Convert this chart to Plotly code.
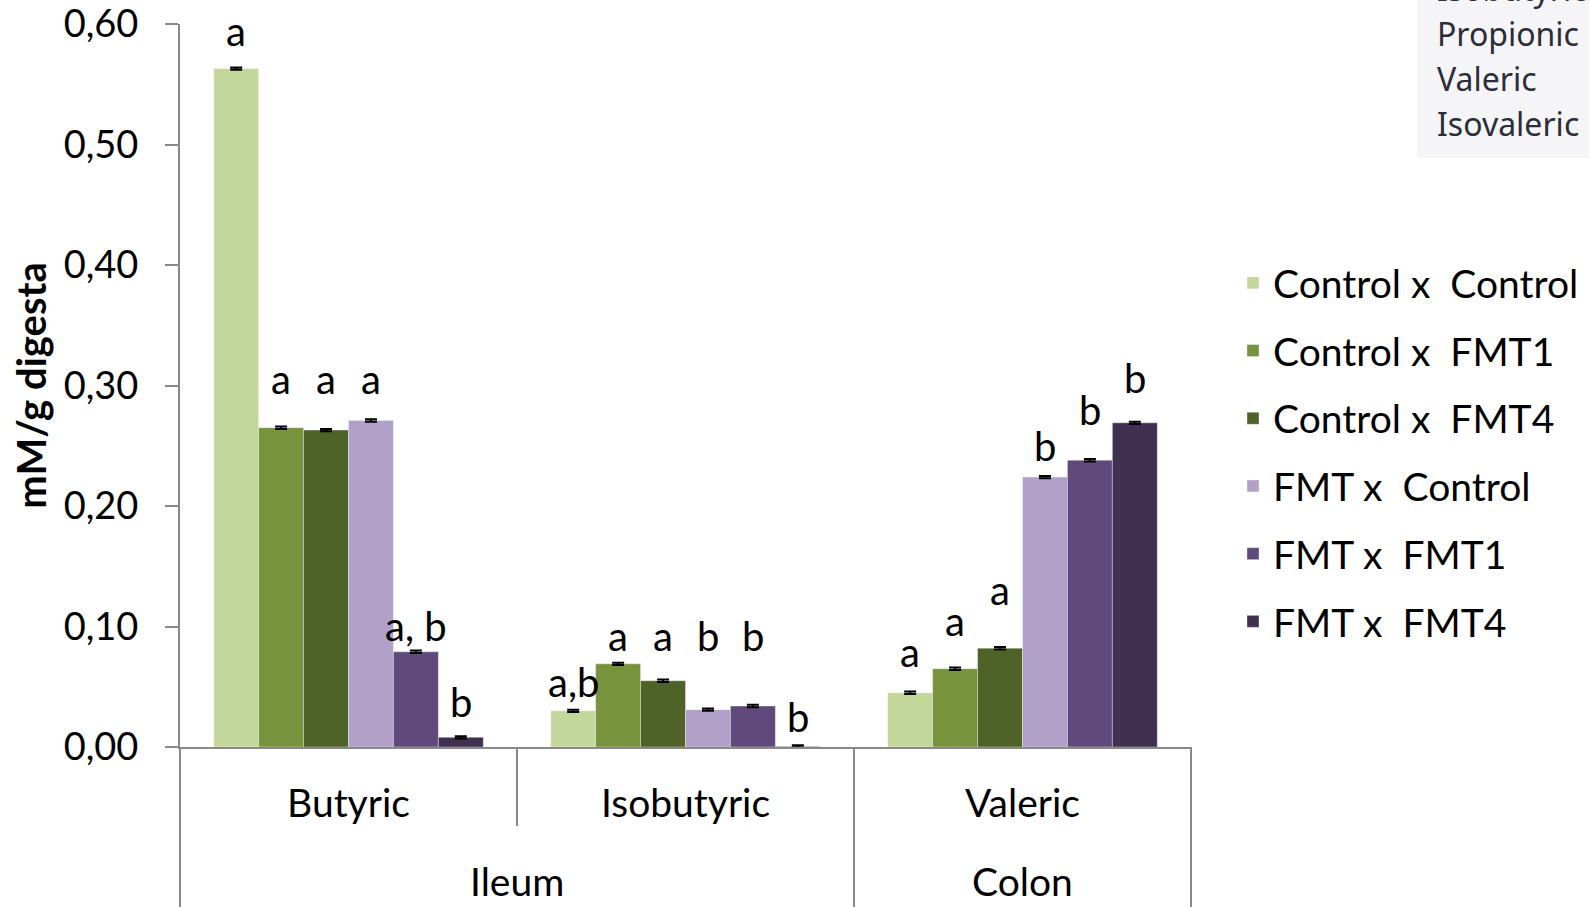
import plotly.graph_objects as go

# Short-chain fatty acid concentration (mM/g digesta) per treatment
acids = ["Butyric", "Isobutyric", "Valeric"]
sites = ["Ileum", "Colon"]
groups = ["Control x\u00a0 Control", "Control x\u00a0 FMT1", "Control x\u00a0 FMT4",
          "FMT x\u00a0 Control", "FMT x\u00a0 FMT1", "FMT x\u00a0 FMT4"]
y_ticks = [0.0, 0.1, 0.2, 0.3, 0.4, 0.5, 0.6]

control_control = [0.563, 0.030, 0.045]
control_fmt1 = [0.265, 0.069, 0.065]
control_fmt4 = [0.263, 0.055, 0.082]
fmt_control = [0.271, 0.031, 0.224]
fmt_fmt1 = [0.079, 0.034, 0.238]
fmt_fmt4 = [0.008, 0.0005, 0.269]

sem = [0.001, 0.001, 0.001]

# significance letters per group and acid
letters_cc = ["a", "a,b", "a"]
letters_cf1 = ["a", "a", "a"]
letters_cf4 = ["a", "a", "a"]
letters_fc = ["a", "b", "b"]
letters_ff1 = ["a, b", "b", "b"]
letters_ff4 = ["b", "b", "b"]

# heights (mM/g) at which the letters sit
letter_h_cc = [0.594, 0.054, 0.079]
letter_h_cf1 = [0.305, 0.092, 0.1045]
letter_h_cf4 = [0.305, 0.092, 0.130]
letter_h_fc = [0.305, 0.092, 0.250]
letter_h_ff1 = [0.1003, 0.092, 0.280]
letter_h_ff4 = [0.037, 0.0246, 0.306]

colors = ["#c4d79b", "#77933c", "#4f6228", "#b1a0c7", "#604a7b", "#403151"]

series = [control_control, control_fmt1, control_fmt4, fmt_control, fmt_fmt1, fmt_fmt4]
letters = [letters_cc, letters_cf1, letters_cf4, letters_fc, letters_ff1, letters_ff4]
letter_h = [letter_h_cc, letter_h_cf1, letter_h_cf4, letter_h_fc, letter_h_ff1, letter_h_ff4]

W, H = 1589, 907
ML, MR, MT, MB = 180, 398, 24, 160
plot_w = W - ML - MR
plot_h = H - MT - MB
bargap = 0.2
bar_px = plot_w / len(acids) * (1 - bargap) / len(groups)

FONT = "Lato"
AXIS_GREY = "#898989"

fig = go.Figure()
for i, (name, vals) in enumerate(zip(groups, series)):
    fig.add_trace(go.Bar(
        x=acids, y=vals, name=name,
        marker=dict(color=colors[i], line=dict(color="rgba(255,255,255,0.35)", width=1)),
        error_y=dict(type="data", array=sem, visible=True, color="black", thickness=2, width=6),
        legendgroup=f"g{i}",
    ))

annotations = []
for i in range(len(groups)):
    for j, acid in enumerate(acids):
        annotations.append(dict(
            x=acid, y=letter_h[i][j], xref="x", yref="y",
            xshift=(i - (len(groups) - 1) / 2) * bar_px,
            text=letters[i][j], showarrow=False,
            font=dict(family=FONT, size=40, color="black"),
            yanchor="middle", xanchor="center",
        ))

def py(px):
    """paper y for a pixel row"""
    return (H - MB - px) / plot_h

def pxx(px):
    return (px - ML) / plot_w

# outer category labels
for site, xc in zip(sites, [1 / 3, 5 / 6]):
    annotations.append(dict(x=xc, y=py(881), xref="paper", yref="paper", text=site,
                            showarrow=False, font=dict(family=FONT, size=39, color="black"),
                            xanchor="center", yanchor="middle"))

# selector panel in the top right corner
panel_items = ["Isobutyric", "Propionic", "Valeric", "Isovaleric"]
panel_y = [-11, 34, 79, 124]
for label, yc in zip(panel_items, panel_y):
    annotations.append(dict(x=pxx(1435), y=py(yc), xref="paper", yref="paper", text=label,
                            showarrow=False, xanchor="left", yanchor="middle",
                            font=dict(family="Noto Sans", size=32, color="#2b2e39")))

shapes = [
    dict(type="rect", xref="paper", yref="paper", x0=pxx(1417), x1=pxx(1600),
         y0=py(158), y1=py(-20), fillcolor="#f5f5f8", line=dict(width=0), layer="below"),
    # category dividers below the axis
    dict(type="line", xref="paper", yref="paper", x0=0, x1=0, y0=0, y1=py(910),
         line=dict(color=AXIS_GREY, width=2)),
    dict(type="line", xref="paper", yref="paper", x0=1 / 3, x1=1 / 3, y0=0, y1=py(826),
         line=dict(color=AXIS_GREY, width=2)),
    dict(type="line", xref="paper", yref="paper", x0=2 / 3, x1=2 / 3, y0=0, y1=py(910),
         line=dict(color=AXIS_GREY, width=2)),
    dict(type="line", xref="paper", yref="paper", x0=1, x1=1, y0=0, y1=py(910),
         line=dict(color=AXIS_GREY, width=2)),
]

fig.update_layout(
    width=W, height=H,
    margin=dict(l=ML, r=MR, t=MT, b=MB, autoexpand=False),
    paper_bgcolor="white", plot_bgcolor="white",
    barmode="group", bargap=bargap, bargroupgap=0,
    separators=", ",
    font=dict(family=FONT, color="black"),
    annotations=annotations,
    shapes=shapes,
    legend=dict(
        x=pxx(1233), y=py(251), xanchor="left", yanchor="top",
        font=dict(family=FONT, size=39, color="black"),
        tracegroupgap=14, bgcolor="rgba(0,0,0,0)",
    ),
    xaxis=dict(
        type="category", showline=True, linecolor=AXIS_GREY, linewidth=2,
        ticks="", showgrid=False, zeroline=False,
        tickfont=dict(family=FONT, size=39, color="black"),
        ticklabelstandoff=21,
    ),
    yaxis=dict(
        range=[0, 0.6], tickmode="array", tickvals=y_ticks, tickformat=".2f",
        showline=True, linecolor=AXIS_GREY, linewidth=2,
        ticks="outside", ticklen=13, tickcolor=AXIS_GREY, tickwidth=2,
        showgrid=False, zeroline=False,
        tickfont=dict(family=FONT, size=38, color="black"),
        ticklabelstandoff=19, ticklabeloverflow="allow",
        title=dict(text="<b>mM/g digesta</b>", font=dict(family=FONT, size=40, color="black"),
                   standoff=5),
        automargin=False,
    ),
)

fig.write_html("out.html")
